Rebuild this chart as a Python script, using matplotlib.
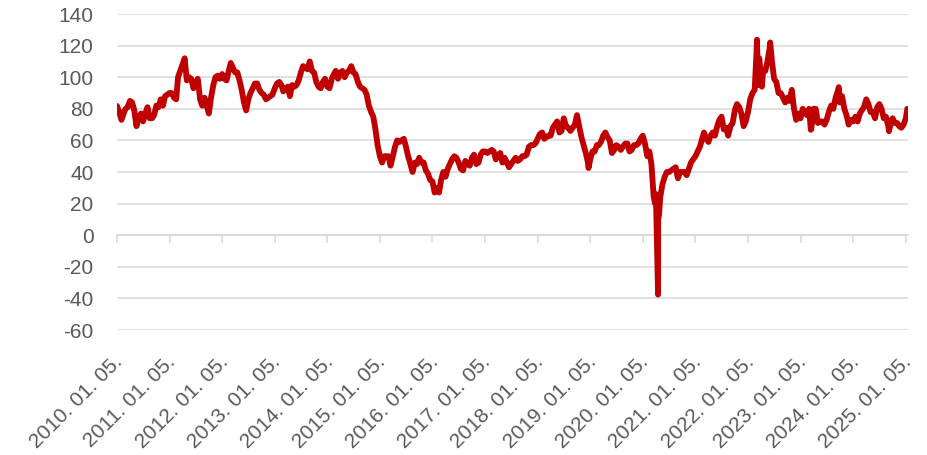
import matplotlib
matplotlib.use("Agg")
import matplotlib.pyplot as plt
import matplotlib.transforms as mtransforms
import pandas as pd

plt.rcParams["axes.unicode_minus"] = False

# Semi-monthly readings (5th and 20th of each month), USD/barrel
wti_2010 = [81.8, 78, 73, 77, 80, 81, 85, 84, 79, 69, 75, 77, 72, 77, 81, 74, 74, 76, 82, 81, 86, 82, 88, 89]
wti_2011 = [90, 90, 87, 86, 100, 104, 108, 112, 98, 100, 99, 93, 96, 99, 86, 82, 87, 82, 77, 87, 95, 100, 101, 99]
wti_2012 = [102, 99, 98, 104, 109, 106, 103, 103, 98, 92, 84, 79, 86, 90, 93, 96, 96, 92, 90, 89, 86, 87, 88, 89]
wti_2013 = [93, 96, 97, 95, 91, 93, 94, 88, 95, 94, 95, 98, 103, 107, 106, 105, 110, 104, 103, 97, 94, 93, 97, 99]
wti_2014 = [94, 93, 99, 102, 104, 99, 103, 104, 100, 103, 104, 107, 103, 102, 97, 94, 93, 92, 89, 82, 78, 75, 67, 57]
wti_2015 = [50, 46, 50, 50, 50, 44, 50, 56, 60, 59, 60, 61, 56, 50, 45, 40, 46, 45, 49, 46, 46, 41, 39, 35]
wti_2016 = [34, 27, 30, 27, 35, 40, 37, 42, 45, 48, 50, 49, 46, 42, 41, 47, 45, 44, 49, 51, 45, 46, 51, 53]
wti_2017 = [53, 52, 53, 54, 53, 48, 51, 52, 46, 49, 46, 43, 45, 47, 49, 47, 48, 50, 50, 51, 56, 57, 57, 58]
wti_2018 = [61, 64, 65, 61, 62, 63, 63, 68, 70, 72, 65, 66, 74, 69, 68, 66, 68, 70, 76, 69, 62, 57, 52, 46]
wti_2019 = [48, 53, 53, 57, 57, 59, 63, 65, 62, 60, 52, 54, 57, 56, 54, 56, 58, 58, 53, 54, 57, 57, 58, 61]
wti_2020 = [63, 58, 50, 53, 45, 25, 26, -37.6, 24, 32, 37, 40, 40, 41, 42, 43, 36, 40, 40, 40, 38, 42, 46, 48]
wti_2021 = [50, 53, 56, 61, 65, 61, 59, 63, 65, 63, 69, 73, 75, 67, 68, 63, 69, 71, 79, 83, 81, 77, 69, 72]
wti_2022 = [78, 86, 90, 92, 116, 104, 100, 104, 104, 110, 119, 110, 99, 97, 90, 90, 87, 84, 87, 85, 92, 80, 73, 77]
wti_2023 = [74, 80, 77, 76, 80, 67, 80, 80, 71, 72, 72, 70, 73, 78, 82, 80, 87, 91, 84, 88, 80, 76, 70, 73]
wti_2024 = [72, 75, 72, 77, 79, 81, 86, 83, 78, 78, 74, 81, 83, 80, 74, 75, 69, 70, 74, 71, 71, 69, 68, 70]
wti_2025 = [74, 80]
wti_2025_dates = ["2025-01-05", "2025-01-15"]

# Extra daily extremes
spike_dates = ["2018-12-24", "2020-03-30", "2020-04-21", "2020-04-27", "2022-03-08",
               "2022-03-16", "2022-03-24", "2022-04-11", "2022-06-08", "2023-03-17",
               "2023-09-27", "2024-09-10"]
spike_values = [42.5, 20, 10, 13, 123.7, 95, 112, 94, 122, 66.7, 93.7, 65.8]

tick_labels = [f"{y}. 01. 05." for y in range(2010, 2026)]

years = {2010: wti_2010, 2011: wti_2011, 2012: wti_2012, 2013: wti_2013, 2014: wti_2014,
         2015: wti_2015, 2016: wti_2016, 2017: wti_2017, 2018: wti_2018, 2019: wti_2019,
         2020: wti_2020, 2021: wti_2021, 2022: wti_2022, 2023: wti_2023, 2024: wti_2024}

dates, vals = [], []
for y, arr in years.items():
    for i, v in enumerate(arr):
        m = i // 2 + 1
        d = 5 if i % 2 == 0 else 20
        dates.append(pd.Timestamp(year=y, month=m, day=d))
        vals.append(v)
for d, v in zip(wti_2025_dates, wti_2025):
    dates.append(pd.Timestamp(d)); vals.append(v)
for d, v in zip(spike_dates, spike_values):
    dates.append(pd.Timestamp(d)); vals.append(v)

s = pd.Series(vals, index=pd.DatetimeIndex(dates)).sort_index()

fig = plt.figure(figsize=(9.28, 4.55), dpi=100)
ax = fig.add_axes([117/928, 1-330/455, (908-117)/928, (330-14)/455])

grid_c = "#D9D9D9"
text_c = "#595959"
ax.set_ylim(-60, 140)
ax.set_yticks(range(-60, 141, 20))
ax.yaxis.grid(True, color=grid_c, lw=1.1)
ax.set_axisbelow(True)

ax.plot(s.index, s.values, color="#C00000", lw=4.2, solid_joinstyle="round",
        solid_capstyle="round", zorder=3)

x0 = pd.Timestamp("2010-01-05")
x1 = pd.Timestamp("2025-01-20")
ax.set_xlim(x0, x1)
tick_dates = [pd.Timestamp(f"{y}-01-05") for y in range(2010, 2026)]
ax.set_xticks(tick_dates)
ax.set_xticklabels(tick_labels, rotation=45, ha="right", rotation_mode="anchor",
                   fontsize=15, color=text_c, family="Liberation Sans")
ax.tick_params(axis="x", length=0, pad=16)
ax.tick_params(axis="y", length=0, pad=17, labelsize=15, labelcolor=text_c)
for lab in ax.get_yticklabels():
    lab.set_family("Liberation Sans")
shift = mtransforms.ScaledTranslation(-4/100, 0, fig.dpi_scale_trans)
for lab in ax.get_xticklabels():
    lab.set_transform(lab.get_transform() + shift)

for sp in ax.spines.values():
    sp.set_visible(False)

# zero axis line with tick marks
sec = ax.secondary_xaxis(60/200)
sec.set_xticks(tick_dates)
sec.set_xticklabels([])
sec.tick_params(axis="x", direction="out", length=6, color=grid_c, width=1.1)
sec.spines["bottom"].set_color(grid_c)
sec.spines["bottom"].set_linewidth(1.1)
sec.spines["top"].set_visible(False)

fig.savefig("out.png", dpi=100)
